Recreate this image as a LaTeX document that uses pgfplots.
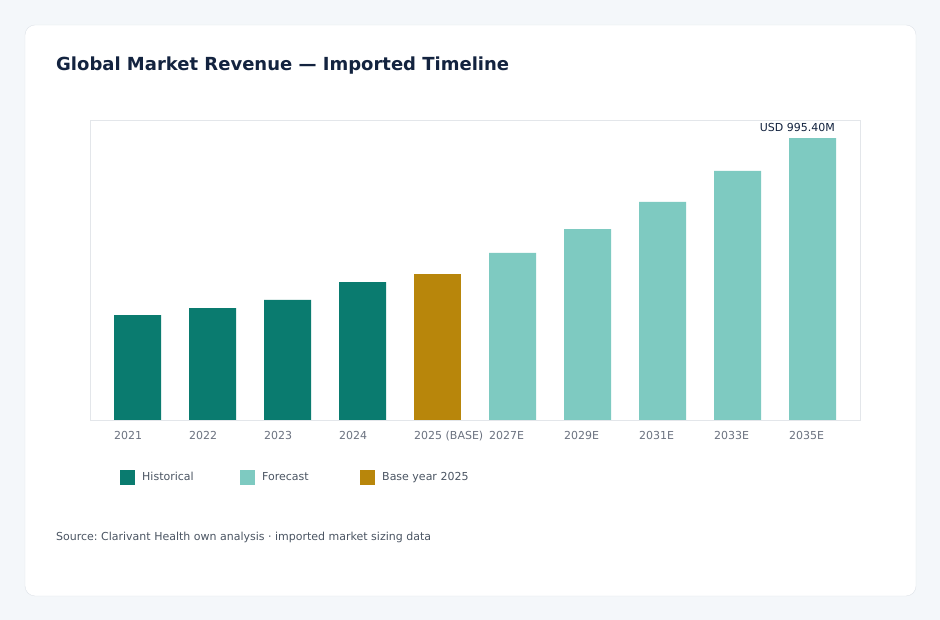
\documentclass[border=0pt]{standalone}
\usepackage{pgfplots}
\pgfplotsset{compat=1.18}
\usepackage{fontspec}
\setmainfont{DejaVu Sans}
\frenchspacing
\definecolor{bgout}{HTML}{F4F7FA}
\definecolor{cardline}{HTML}{DDE2E8}
\definecolor{hist}{HTML}{0A7B6F}
\definecolor{fcst}{HTML}{7ECAC1}
\definecolor{base}{HTML}{B8860B}
\definecolor{titlec}{HTML}{13233F}
\definecolor{tickc}{HTML}{6B7280}
\definecolor{legc}{HTML}{4B5563}
\definecolor{axisc}{HTML}{E3E6EA}
\begin{document}
\begin{tikzpicture}[x=1bp,y=1bp]
\fill[bgout] (0,0) rectangle (940,620);
\draw[cardline,fill=white,rounded corners=10bp] (25,24) rectangle (916,595);
\node[anchor=base west,text=titlec,inner sep=0pt,font=\fontsize{18bp}{22bp}\selectfont\bfseries] at (56,549) {Global Market Revenue — Imported Timeline};
\begin{axis}[
  at={(90bp,200bp)}, anchor=south west,
  width=770bp, height=300bp, scale only axis,
  xmin=-0.6333, xmax=9.6333, ymin=0, ymax=1059,
  axis line style={axisc},
  ytick=\empty,
  xtick={0,1,2,3,4,5,6,7,8,9},
  xticklabels={2021,2022,2023,2024,2025 (BASE),2027E,2029E,2031E,2033E,2035E},
  major tick length=0pt,
  xticklabel style={anchor=north west, xshift=-23.5bp, yshift=-11bp, text=tickc, font=\fontsize{11bp}{13bp}\selectfont, inner sep=0pt},
  ybar, bar shift=0pt, bar width=47bp,
  clip=false,
]
\addplot[fill=hist, draw=none] coordinates {(0,370.6) (1,395) (2,423.6) (3,487)};
\addplot[fill=base, draw=none] coordinates {(4,515)};
\addplot[fill=fcst, draw=none] coordinates {(5,589.5) (6,674) (7,769.5) (8,879) (9,995.4)};
\node[anchor=south east, inner sep=0pt, xshift=22.5bp, yshift=6bp, text=titlec, font=\fontsize{11bp}{13bp}\selectfont] at (axis cs:9,995.4) {USD 995.40M};
\end{axis}
\fill[hist] (120,135) rectangle (135,150);
\node[anchor=base west,inner sep=0pt,text=legc,font=\fontsize{11bp}{13bp}\selectfont] at (142,139.5) {Historical};
\fill[fcst] (240,135) rectangle (255,150);
\node[anchor=base west,inner sep=0pt,text=legc,font=\fontsize{11bp}{13bp}\selectfont] at (262,139.5) {Forecast};
\fill[base] (360,135) rectangle (375,150);
\node[anchor=base west,inner sep=0pt,text=legc,font=\fontsize{11bp}{13bp}\selectfont] at (382,139.5) {Base year 2025};
\node[anchor=base west,inner sep=0pt,text=legc,font=\fontsize{11bp}{13bp}\selectfont] at (56,79) {Source: Clarivant Health own analysis · imported market sizing data};
\end{tikzpicture}
\end{document}
